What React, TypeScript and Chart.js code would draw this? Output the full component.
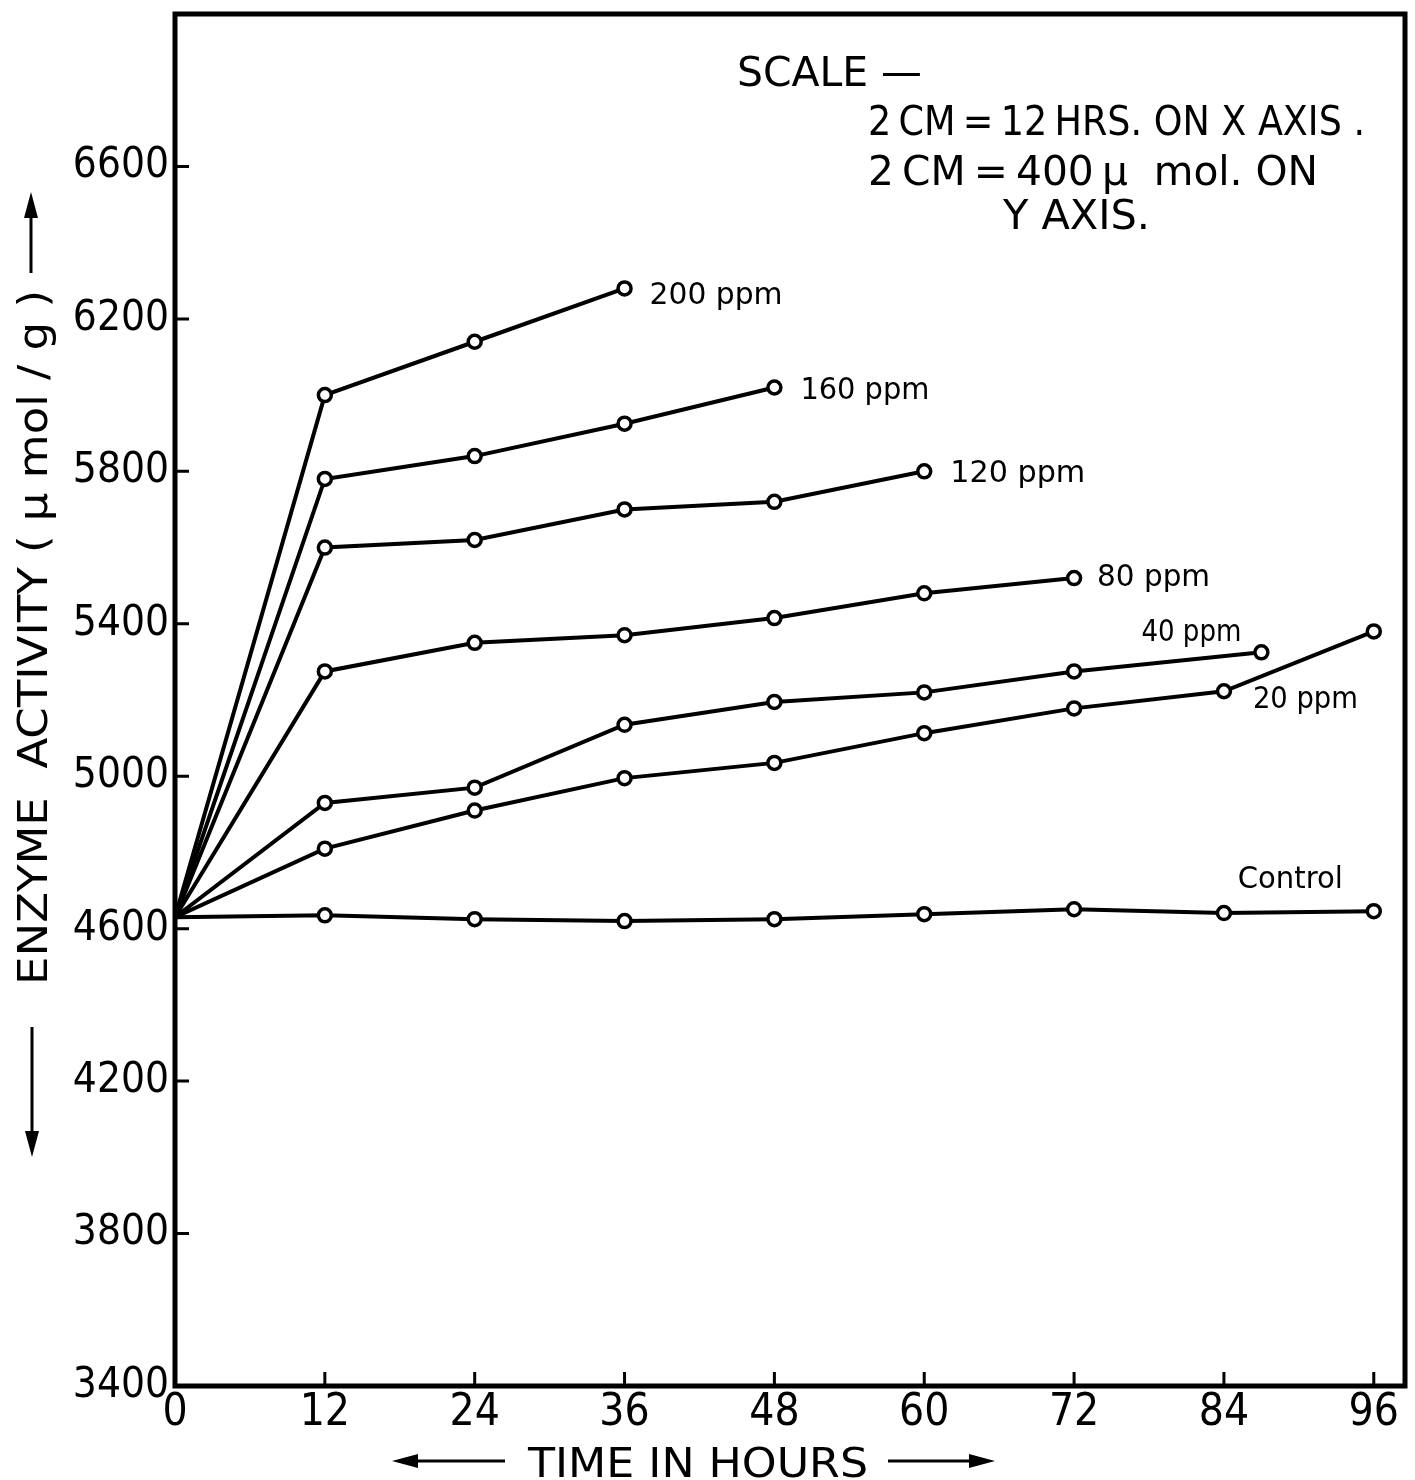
import React, { useEffect, useRef } from "react";
import { Chart, registerables } from "chart.js";

Chart.register(...registerables);

// ---- data ----
const hours = [0, 12, 24, 36, 48, 60, 72, 84, 96];
const hours40 = [0, 12, 24, 36, 48, 60, 72, 87];
const control = [4630, 4635, 4625, 4620, 4625, 4638, 4651, 4641, 4646];
const ppm20 = [4630, 4810, 4910, 4995, 5035, 5113, 5178, 5223, 5380];
const ppm40 = [4630, 4930, 4970, 5135, 5195, 5220, 5275, 5325];
const ppm80 = [4630, 5275, 5350, 5370, 5415, 5480, 5520];
const ppm120 = [4630, 5600, 5620, 5700, 5720, 5800];
const ppm160 = [4630, 5780, 5840, 5925, 6020];
const ppm200 = [4630, 6000, 6140, 6280];
const seriesNames = ["Control", "20 ppm", "40 ppm", "80 ppm", "120 ppm", "160 ppm", "200 ppm"];
const xTicks = [0, 12, 24, 36, 48, 60, 72, 84, 96];
const yTicks = [3400, 3800, 4200, 4600, 5000, 5400, 5800, 6200, 6600];
const yTitle = "ENZYME  ACTIVITY ( µ mol / g )";
const xTitle = "TIME IN HOURS";
const scaleLines = [
  "SCALE —",
  "2\u2009CM\u2009=\u200912\u2009HRS. ON X AXIS .",
  "2\u2009CM\u2009=\u2009400\u2009µ  mol. ON",
  "Y AXIS.",
];

// ---- layout / style ----
const COND = "'DejaVu Sans Condensed', 'DejaVu Sans', sans-serif";
const NARROW = "'Liberation Sans Narrow', 'DejaVu Sans Condensed', sans-serif";
// label placement: dataset index, anchor point index, offset, fitted width
const labelPlace = [
  { ds: 0, pt: 8, dx: -136, dy: -23, w: 105 },
  { ds: 1, pt: 7, dx: 29, dy: 17, w: 105 },
  { ds: 2, pt: 7, dx: -120, dy: -11, w: 100 },
  { ds: 3, pt: 6, dx: 23, dy: 8, w: 113 },
  { ds: 4, pt: 5, dx: 26, dy: 11, w: 135 },
  { ds: 5, pt: 4, dx: 26, dy: 12, w: 129 },
  { ds: 6, pt: 3, dx: 25, dy: 16, w: 133 },
];
const scalePlace = [
  { x: 737, w: 185, y: 86 },
  { x: 868, w: 497, y: 135 },
  { x: 868, w: 450, y: 185 },
  { x: 1003, w: 147, y: 229 },
];

function drawFit(ctx: CanvasRenderingContext2D, text: string, x: number, y: number, w: number, size: number) {
  ctx.save();
  ctx.font = `${size}px ${COND}`;
  ctx.textAlign = "left";
  ctx.textBaseline = "alphabetic";
  const m = ctx.measureText(text).width;
  ctx.translate(x, y);
  ctx.scale(w / m, 1);
  ctx.fillStyle = "#000";
  ctx.fillText(text, 0, 0);
  ctx.restore();
}

function arrow(ctx: CanvasRenderingContext2D, x1: number, y1: number, x2: number, y2: number, head: number, half: number) {
  const a = Math.atan2(y2 - y1, x2 - x1);
  const bx = x2 - head * Math.cos(a);
  const by = y2 - head * Math.sin(a);
  ctx.save();
  ctx.strokeStyle = "#000";
  ctx.fillStyle = "#000";
  ctx.lineWidth = 3;
  ctx.beginPath();
  ctx.moveTo(x1, y1);
  ctx.lineTo(bx, by);
  ctx.stroke();
  ctx.beginPath();
  ctx.moveTo(x2, y2);
  ctx.lineTo(bx + half * Math.sin(a), by - half * Math.cos(a));
  ctx.lineTo(bx - half * Math.sin(a), by + half * Math.cos(a));
  ctx.closePath();
  ctx.fill();
  ctx.restore();
}

const zeroPad = (s: any) => {
  s.paddingTop = 0;
  s.paddingBottom = 0;
  s.paddingLeft = 0;
  s.paddingRight = 0;
};

const decor = {
  id: "decor",
  beforeDatasetsDraw(chart: any) {
    const { ctx, chartArea: a, scales } = chart;
    ctx.save();
    ctx.strokeStyle = "#000";
    ctx.lineWidth = 5;
    ctx.strokeRect(a.left, a.top, a.right - a.left, a.bottom - a.top);
    ctx.lineWidth = 3;
    ctx.beginPath();
    xTicks.slice(1).forEach((v) => {
      const px = scales.x.getPixelForValue(v);
      ctx.moveTo(px, a.bottom);
      ctx.lineTo(px, a.bottom - 14);
    });
    yTicks.slice(1).forEach((v) => {
      const py = scales.y.getPixelForValue(v);
      ctx.moveTo(a.left, py);
      ctx.lineTo(a.left + 14, py);
    });
    ctx.stroke();
    ctx.restore();
  },
  afterDatasetsDraw(chart: any) {
    const { ctx, scales } = chart;
    labelPlace.forEach((p) => {
      const d = chart.data.datasets[p.ds].data[p.pt];
      const px = scales.x.getPixelForValue(d.x);
      const py = scales.y.getPixelForValue(d.y);
      drawFit(ctx, seriesNames[p.ds], px + p.dx, py + p.dy, p.w, 31);
    });
    scaleLines.forEach((t, i) => {
      const s = scalePlace[i];
      drawFit(ctx, t, s.x, s.y, s.w, 40);
    });
    ctx.save();
    ctx.translate(47, 985);
    ctx.rotate(-Math.PI / 2);
    drawFit(ctx, yTitle, 0, 0, 695, 41);
    ctx.restore();
    arrow(ctx, 31, 273, 31, 192, 26, 7);
    arrow(ctx, 32, 1027, 32, 1157, 26, 7);
    drawFit(ctx, xTitle, 528, 1477, 340, 41);
    arrow(ctx, 505, 1461, 392, 1461, 26, 7);
    arrow(ctx, 888, 1461, 995, 1461, 26, 7);
  },
};

export default function App() {
  const ref = useRef<HTMLCanvasElement>(null);
  useEffect(() => {
    const canvas = ref.current!;
    const mk = (label: string, xs: number[], ys: number[]) => ({
      label,
      data: ys.map((y, i) => ({ x: xs[i], y })),
      borderColor: "#000",
      borderWidth: 4,
      tension: 0,
      fill: false,
      pointRadius: (c: any) => (c.dataIndex === 0 ? 0 : 6.5),
      pointBorderWidth: 3.5,
      pointBackgroundColor: "#fff",
      pointBorderColor: "#000",
    });
    const chart = new Chart(canvas, {
      type: "line",
      data: {
        datasets: [
          mk(seriesNames[0], hours, control),
          mk(seriesNames[1], hours, ppm20),
          mk(seriesNames[2], hours40, ppm40),
          mk(seriesNames[3], hours, ppm80),
          mk(seriesNames[4], hours, ppm120),
          mk(seriesNames[5], hours, ppm160),
          mk(seriesNames[6], hours, ppm200),
        ] as any,
      },
      options: {
        responsive: false,
        animation: false,
        events: [],
        layout: { padding: { top: 14, right: 6, left: 0, bottom: 0 } },
        plugins: { legend: { display: false }, tooltip: { enabled: false } },
        scales: {
          x: {
            type: "linear",
            min: 0,
            max: 98.5,
            afterBuildTicks: (s: any) => {
              s.ticks = xTicks.map((v) => ({ value: v }));
            },
            afterFit: (s: any) => {
              s.height = 94;
              zeroPad(s);
            },
            ticks: {
              color: "#000",
              font: { family: NARROW, size: 44 },
              padding: 1,
              maxRotation: 0,
              autoSkip: false,
              callback: (v: any) => String(v),
            },
            grid: { display: false, drawTicks: false },
            border: { display: false },
          },
          y: {
            type: "linear",
            min: 3400,
            max: 7000,
            afterBuildTicks: (s: any) => {
              s.ticks = yTicks.map((v) => ({ value: v }));
            },
            afterFit: (s: any) => {
              s.width = 175;
              zeroPad(s);
            },
            ticks: {
              color: "#000",
              font: { family: COND, size: 42 },
              padding: 6,
              autoSkip: false,
              callback: (v: any) => String(v),
            },
            grid: { display: false, drawTicks: false },
            border: { display: false },
          },
        },
      },
      plugins: [decor],
    });
    return () => chart.destroy();
  }, []);
  return (
    <div style={{ position: "absolute", left: 0, top: 0, width: 1415, height: 1480, background: "#fff" }}>
      <canvas ref={ref} width={1415} height={1480} />
    </div>
  );
}
